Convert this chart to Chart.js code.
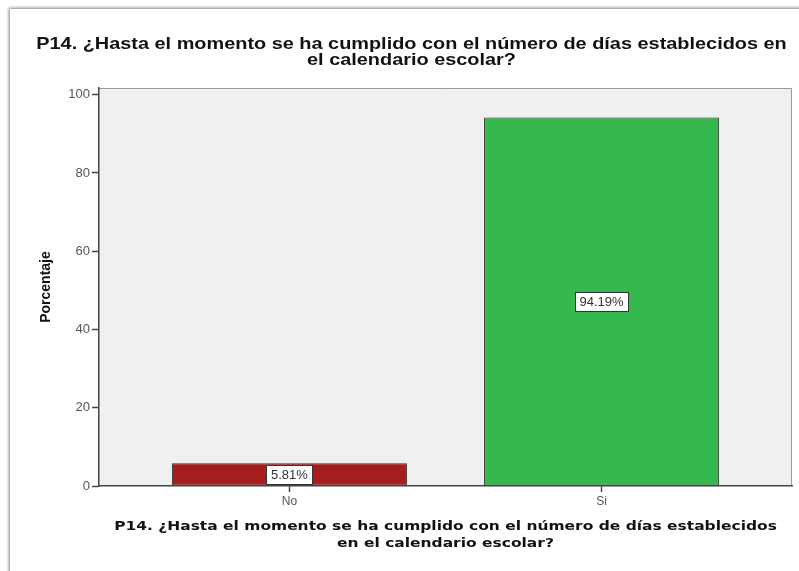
<!DOCTYPE html>
<html>
<head>
<meta charset="utf-8">
<script src="https://cdn.jsdelivr.net/npm/chart.js@4.4.1/dist/chart.umd.min.js"></script>
<style>
  html, body { margin: 0; padding: 0; background: #ffffff; }
  #wrap { position: relative; width: 799px; height: 571px; overflow: hidden; }
  #card { position: absolute; left: 10px; top: 9px; width: 820px; height: 600px; background: #fff;
          box-shadow: -1px -1px 3px rgba(0,0,0,0.5); }
  canvas { position: absolute; left: 0; top: 0; }
</style>
</head>
<body>
<div id="wrap">
  <div id="card"></div>
  <canvas id="c" width="799" height="571"></canvas>
</div>
<script>
const chartTitle = ['P14. ¿Hasta el momento se ha cumplido con el número de días establecidos en', 'el calendario escolar?'];
const xAxisTitle = ['P14. ¿Hasta el momento se ha cumplido con el número de días establecidos', 'en el calendario escolar?'];
const yAxisTitle = 'Porcentaje';
const categories = ['No', 'Si'];
const percentages = [5.81, 94.19];
const barColors = ['#a61d1e', '#35b84d'];
const yTicks = [0, 20, 40, 60, 80, 100];

const plotBg = {
  id: 'plotBg',
  beforeDraw(chart) {
    const {ctx, chartArea: a} = chart;
    ctx.save();
    ctx.fillStyle = '#f0f0f0';
    ctx.fillRect(a.left, a.top, a.right - a.left, a.bottom - a.top);
    ctx.strokeStyle = '#9a9a9a';
    ctx.lineWidth = 1;
    ctx.beginPath();
    ctx.moveTo(a.left, a.top + 0.5);
    ctx.lineTo(a.right - 0.5, a.top + 0.5);
    ctx.lineTo(a.right - 0.5, a.bottom);
    ctx.stroke();
    ctx.restore();
  }
};

// Titles are drawn slightly widened, as in the reference picture
const stretchedTitles = {
  id: 'stretchedTitles',
  afterDraw(chart) {
    const {ctx, chartArea: a} = chart;
    const drawLines = (lines, font, cx, y0, step, sx) => {
      ctx.save();
      ctx.font = font;
      ctx.fillStyle = '#111111';
      ctx.textAlign = 'center';
      ctx.textBaseline = 'middle';
      lines.forEach((ln, i) => {
        ctx.save();
        ctx.translate(cx, y0 + i * step);
        ctx.scale(sx, 1);
        ctx.fillText(ln, 0, 0);
        ctx.restore();
      });
      ctx.restore();
    };
    const w = chart.width;
    const pad = chart.options.layout.padding;
    drawLines(chartTitle, 'bold 17px "Liberation Sans", Arial, sans-serif',
              (pad.left + w - pad.right) / 2, a.top - 44, 16, 1.17);
    drawLines(xAxisTitle, 'bold 13px "DejaVu Sans", sans-serif',
              (a.left + a.right) / 2, a.bottom + 41, 16.5, 1.19);
  }
};

const boxLabels = {
  id: 'boxLabels',
  afterDatasetsDraw(chart) {
    const {ctx} = chart;
    const meta = chart.getDatasetMeta(0);
    ctx.save();
    ctx.font = '13px "Liberation Sans", Arial, sans-serif';
    ctx.textAlign = 'center';
    ctx.textBaseline = 'middle';
    meta.data.forEach((el, i) => {
      const txt = percentages[i].toFixed(2) + '%';
      const cx = el.x;
      const cy = (el.y + el.base) / 2;
      const w = Math.round(ctx.measureText(txt).width + 9);
      const h = 19;
      const x0 = Math.round(cx - w / 2) + 0.5;
      const y0 = Math.round(cy - h / 2) + 0.5;
      ctx.fillStyle = '#ffffff';
      ctx.fillRect(x0, y0, w, h);
      ctx.strokeStyle = '#333333';
      ctx.lineWidth = 1;
      ctx.strokeRect(x0, y0, w, h);
      ctx.fillStyle = '#333333';
      ctx.fillText(txt, cx, cy + 1);
    });
    ctx.restore();
  }
};

new Chart(document.getElementById('c'), {
  type: 'bar',
  data: {
    datasets: [{
      data: percentages.map((v, i) => ({x: i, y: v})),
      backgroundColor: barColors,
      borderColor: '#333333',
      borderWidth: 1,
      borderSkipped: false,
      barPercentage: 0.753,
      categoryPercentage: 1.0
    }]
  },
  options: {
    responsive: false,
    animation: false,
    events: [],
    layout: { padding: { left: 31, right: 7, top: 88, bottom: 0 } },
    plugins: {
      legend: { display: false },
      tooltip: { enabled: false },
      title: { display: false }
    },
    scales: {
      x: {
        type: 'linear',
        offset: false,
        min: -0.61,
        max: 1.61,
        afterBuildTicks(scale) { scale.ticks = categories.map((c, i) => ({value: i})); },
        afterFit(scale) { scale.height = 85; },
        ticks: {
          callback: (v) => categories[v] !== undefined ? categories[v] : '',
          color: '#555555',
          font: { family: '"Liberation Sans", Arial, sans-serif', size: 12 },
          padding: 2,
          maxRotation: 0,
          autoSkip: false
        },
        grid: { display: true, drawOnChartArea: false, drawTicks: true, tickLength: 6, tickColor: '#444444', tickWidth: 1.5, offset: false },
        border: { display: true, color: '#444444', width: 1.5 },
        title: { display: false }
      },
      y: {
        min: 0,
        max: 101.7,
        afterBuildTicks(scale) { scale.ticks = yTicks.map(v => ({value: v})); },
        afterFit(scale) { scale.width = 68; },
        ticks: {
          color: '#555555',
          font: { family: '"Liberation Sans", Arial, sans-serif', size: 13 },
          padding: 2
        },
        grid: { display: true, drawOnChartArea: false, drawTicks: true, tickLength: 7, tickColor: '#444444', tickWidth: 1.5 },
        border: { display: true, color: '#444444', width: 1.5 },
        title: {
          display: true,
          text: yAxisTitle,
          color: '#111111',
          font: { family: '"Liberation Sans", Arial, sans-serif', size: 14, weight: 'bold', lineHeight: 1.2 },
          padding: { top: 7, bottom: 0 }
        }
      }
    }
  },
  plugins: [plotBg, boxLabels, stretchedTitles]
});
</script>
</body>
</html>
